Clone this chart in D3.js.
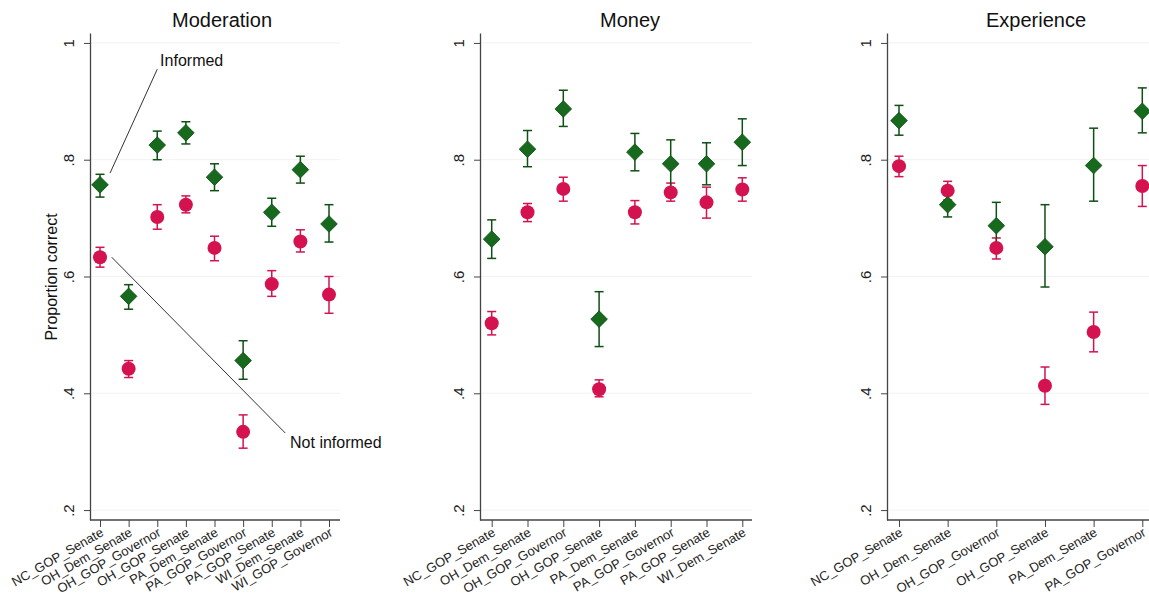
<!DOCTYPE html>
<html>
<head>
<meta charset="utf-8">
<script src="https://cdn.jsdelivr.net/npm/d3@7"></script>
<style>
  body { margin: 0; background: #fff; }
  svg { font-family: "Liberation Sans", Arial, Helvetica, sans-serif; }
</style>
</head>
<body>
<div id="chart"></div>
<script>
// Categories (races) per panel
var modCats = ["NC_GOP_Senate", "OH_Dem_Senate", "OH_GOP_Governor", "OH_GOP_Senate", "PA_Dem_Senate",
  "PA_GOP_Governor", "PA_GOP_Senate", "WI_Dem_Senate", "WI_GOP_Governor"];
var moneyCats = ["NC_GOP_Senate", "OH_Dem_Senate", "OH_GOP_Governor", "OH_GOP_Senate", "PA_Dem_Senate",
  "PA_GOP_Governor", "PA_GOP_Senate", "WI_Dem_Senate"];
var expCats = ["NC_GOP_Senate", "OH_Dem_Senate", "OH_GOP_Governor", "OH_GOP_Senate", "PA_Dem_Senate",
  "PA_GOP_Governor"];

// Moderation: informed (green) and not informed (red), with CI bounds
var modInformed = [0.757, 0.566, 0.825, 0.846, 0.770, 0.456, 0.710, 0.783, 0.690];
var modInformedLo = [0.736, 0.544, 0.800, 0.827, 0.747, 0.424, 0.686, 0.760, 0.659];
var modInformedHi = [0.775, 0.586, 0.849, 0.865, 0.793, 0.490, 0.734, 0.806, 0.723];
var modNot = [0.633, 0.442, 0.702, 0.723, 0.649, 0.334, 0.587, 0.660, 0.569];
var modNotLo = [0.616, 0.427, 0.681, 0.709, 0.627, 0.306, 0.566, 0.642, 0.537];
var modNotHi = [0.650, 0.456, 0.723, 0.738, 0.669, 0.363, 0.610, 0.680, 0.600];

// Money
var moneyInformed = [0.664, 0.818, 0.887, 0.527, 0.813, 0.793, 0.793, 0.830];
var moneyInformedLo = [0.631, 0.788, 0.857, 0.480, 0.781, 0.751, 0.757, 0.790];
var moneyInformedHi = [0.697, 0.850, 0.919, 0.574, 0.845, 0.834, 0.829, 0.870];
var moneyNot = [0.520, 0.710, 0.750, 0.407, 0.710, 0.744, 0.727, 0.749];
var moneyNotLo = [0.500, 0.694, 0.729, 0.394, 0.690, 0.729, 0.700, 0.729];
var moneyNotHi = [0.540, 0.725, 0.770, 0.423, 0.730, 0.760, 0.753, 0.769];

// Experience
var expInformed = [0.867, 0.723, 0.687, 0.651, 0.790, 0.883];
var expInformedLo = [0.842, 0.702, 0.650, 0.582, 0.729, 0.846];
var expInformedHi = [0.893, 0.743, 0.727, 0.723, 0.854, 0.923];
var expNot = [0.789, 0.747, 0.649, 0.413, 0.505, 0.755];
var expNotLo = [0.771, 0.731, 0.630, 0.381, 0.471, 0.720];
var expNotHi = [0.806, 0.763, 0.666, 0.445, 0.539, 0.790];

// y ticks
var yTicks = [0.2, 0.4, 0.6, 0.8, 1];
var yTickLabels = [".2", ".4", ".6", ".8", "1"];

// annotation labels on the first panel (category index, value)
var annoLabels = ["Informed", "Not informed"];
var annoFrom = [[0.35, 0.777], [0.41, 0.633]];
var annoTo = [[2.0, 0.955], [6.47, 0.332]];
var annoText = [[2.1, 0.96], [6.64, 0.306]];

var green = "#176a1d";
var greenDark = "#0e4f14";
var red = "#d3124f";

var svgWidth = 1149;
var svgHeight = 613;

var svg = d3.select("#chart")
  .append("svg")
  .attr("width", svgWidth)
  .attr("height", svgHeight);

// shared y scale (all panels use the same vertical layout)
var yScale = d3.scaleLinear()
  .domain([0.183, 1.017])
  .range([520, 33]);

var panels = [
  { title: "Moderation", cats: modCats, inf: modInformed, infLo: modInformedLo, infHi: modInformedHi,
    not: modNot, notLo: modNotLo, notHi: modNotHi, left: 90, first: 100, last: 329, right: 340, titleX: 222, ylabel: true },
  { title: "Money", cats: moneyCats, inf: moneyInformed, infLo: moneyInformedLo, infHi: moneyInformedHi,
    not: moneyNot, notLo: moneyNotLo, notHi: moneyNotHi, left: 480, first: 491.7, last: 742.3, right: 752, titleX: 630 },
  { title: "Experience", cats: expCats, inf: expInformed, infLo: expInformedLo, infHi: expInformedHi,
    not: expNot, notLo: expNotLo, notHi: expNotHi, left: 887, first: 899, last: 1142.3, right: 1200, titleX: 1036 }
];

var xScales = [];

panels.forEach(function (p, pi) {
  var n = p.cats.length;
  var idx = d3.range(n);
  var x = d3.scaleLinear().domain([0, n - 1]).range([p.first, p.last]);
  xScales.push(x);

  var g = svg.append("g");

  // faint gridlines
  g.selectAll(".grid")
    .data(yTicks)
    .enter()
    .append("line")
    .attr("x1", p.left)
    .attr("x2", p.right)
    .attr("y1", d => yScale(d))
    .attr("y2", d => yScale(d))
    .attr("stroke", "#f2f2f2")
    .attr("stroke-width", 1);

  // title
  g.append("text")
    .attr("x", p.titleX)
    .attr("y", 27)
    .attr("text-anchor", "middle")
    .attr("font-size", "20px")
    .attr("fill", "#111")
    .text(p.title);

  // y axis
  var leftAxis = d3.axisLeft(yScale)
    .tickValues(yTicks)
    .tickFormat((d, i) => yTickLabels[i])
    .tickSize(6)
    .tickSizeOuter(0);

  var yAxis = g.append("g")
    .attr("transform", `translate(${p.left}, 0)`)
    .call(leftAxis);
  yAxis.select(".domain").attr("stroke", "#444").attr("stroke-width", 1.3);
  yAxis.selectAll(".tick line").attr("stroke", "#444");
  yAxis.selectAll(".tick text")
    .attr("x", null)
    .attr("dy", null)
    .attr("transform", "translate(-16, 0) rotate(-90)")
    .attr("text-anchor", "middle")
    .attr("font-size", "15px")
    .attr("fill", "#222");

  // x axis
  g.append("line")
    .attr("x1", p.left)
    .attr("x2", p.right)
    .attr("y1", 520)
    .attr("y2", 520)
    .attr("stroke", "#444")
    .attr("stroke-width", 1.3);

  var bottomAxis = d3.axisBottom(x)
    .tickValues(idx)
    .tickFormat(i => p.cats[i])
    .tickSize(7)
    .tickSizeOuter(0);

  var xAxis = g.append("g")
    .attr("transform", "translate(0, 520)")
    .call(bottomAxis);
  xAxis.select(".domain").remove();
  xAxis.selectAll(".tick line").attr("stroke", "#444");
  xAxis.selectAll(".tick text")
    .attr("y", null)
    .attr("dy", null)
    .attr("transform", "translate(4, 15) rotate(-30)")
    .attr("text-anchor", "end")
    .attr("font-size", "13px")
    .attr("fill", "#222");

  // y label
  if (p.ylabel) {
    g.append("text")
      .attr("transform", `translate(57, ${277}) rotate(-90)`)
      .attr("text-anchor", "middle")
      .attr("font-size", "16px")
      .attr("fill", "#111")
      .text("Proportion correct");
  }

  // error bars (both series) then markers
  var series = [
    { v: p.not, lo: p.notLo, hi: p.notHi, color: red },
    { v: p.inf, lo: p.infLo, hi: p.infHi, color: greenDark }
  ];

  series.forEach(function (s) {
    var eb = g.append("g");
    eb.selectAll(".ci")
      .data(idx)
      .enter()
      .append("line")
      .attr("x1", i => x(i))
      .attr("x2", i => x(i))
      .attr("y1", i => yScale(s.lo[i]))
      .attr("y2", i => yScale(s.hi[i]))
      .attr("stroke", s.color)
      .attr("stroke-width", 1.5);
    [s.lo, s.hi].forEach(function (arr) {
      eb.selectAll(".cap")
        .data(idx)
        .enter()
        .append("line")
        .attr("x1", i => x(i) - 4.5)
        .attr("x2", i => x(i) + 4.5)
        .attr("y1", i => yScale(arr[i]))
        .attr("y2", i => yScale(arr[i]))
        .attr("stroke", s.color)
        .attr("stroke-width", 1.5);
    });
  });

  // not informed circles
  g.selectAll(".notInf")
    .data(idx)
    .enter()
    .append("circle")
    .attr("cx", i => x(i))
    .attr("cy", i => yScale(p.not[i]))
    .attr("r", 7)
    .attr("fill", red);

  // informed diamonds
  var diamond = d3.symbol().type(d3.symbolSquare).size(138);
  g.selectAll(".inf")
    .data(idx)
    .enter()
    .append("path")
    .attr("d", diamond)
    .attr("transform", i => `translate(${x(i)}, ${yScale(p.inf[i])}) rotate(45)`)
    .attr("fill", green)
    .attr("stroke", greenDark)
    .attr("stroke-width", 0.8);
});

// annotations on the Moderation panel
var x0 = xScales[0];
annoLabels.forEach(function (label, i) {
  svg.append("line")
    .attr("x1", x0(annoFrom[i][0]))
    .attr("y1", yScale(annoFrom[i][1]))
    .attr("x2", x0(annoTo[i][0]))
    .attr("y2", yScale(annoTo[i][1]))
    .attr("stroke", "#333")
    .attr("stroke-width", 1);
  svg.append("text")
    .attr("x", x0(annoText[i][0]))
    .attr("y", yScale(annoText[i][1]))
    .attr("font-size", "16px")
    .attr("fill", "#111")
    .text(label);
});
</script>
</body>
</html>
